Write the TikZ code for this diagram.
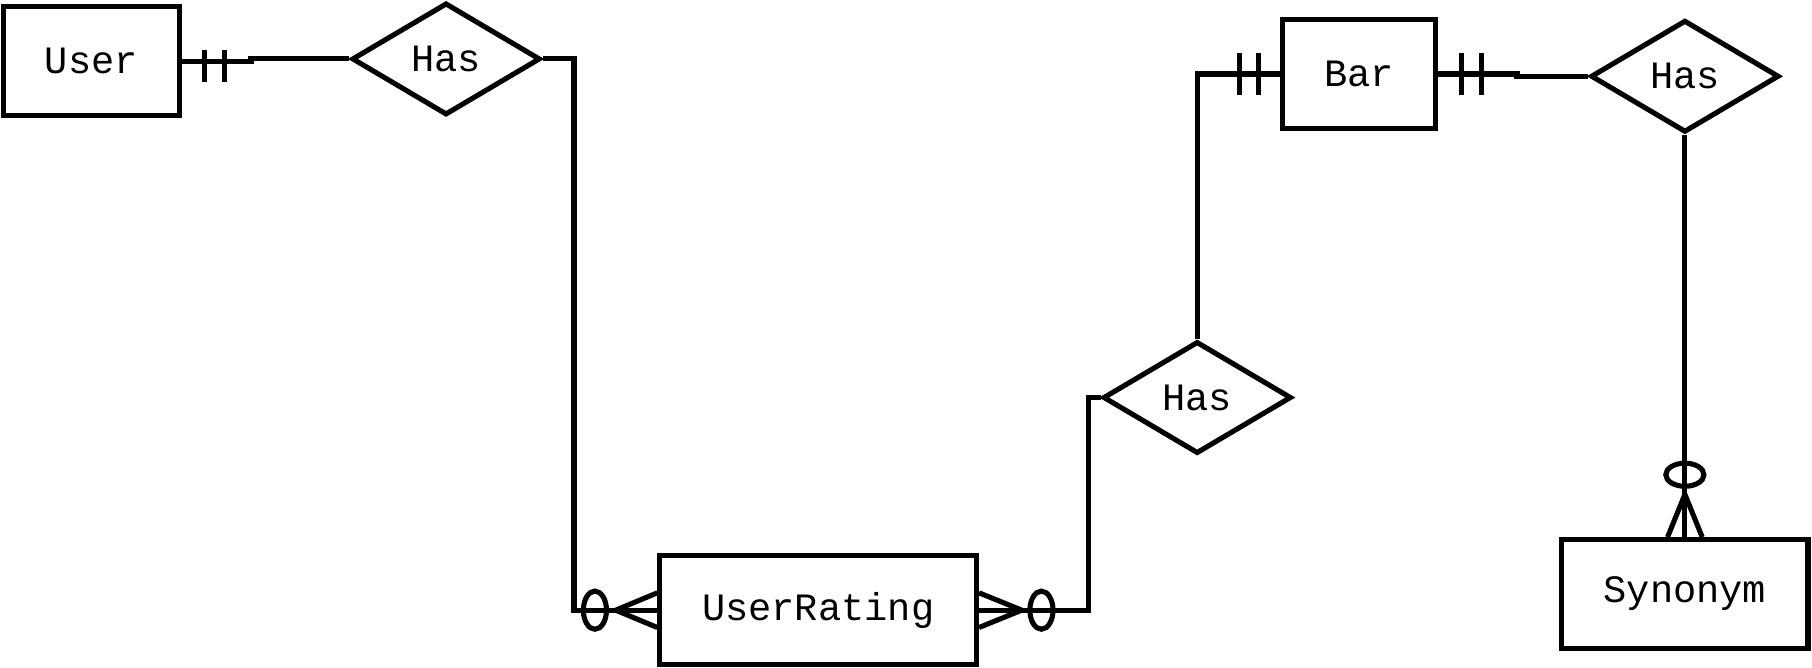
\documentclass[tikz,border=0pt]{standalone}
\usepackage{fontspec}
\setmonofont{Liberation Mono}
\usetikzlibrary{shapes.geometric}

\begin{document}
\begin{tikzpicture}[x=1pt, y=-1pt, line width=4.4pt,
		entity/.style={draw, rectangle, minimum height=94pt, inner sep=0pt, font=\ttfamily\fontsize{33.5}{40}\selectfont},
		relation/.style={draw, diamond, minimum width=163pt, minimum height=97pt, inner sep=0pt, font=\ttfamily\fontsize{33.5}{40}\selectfont}]
		\useasboundingbox (0, 0) rectangle (1568, 578);
		% entities and relations
		\node[entity, minimum width=152pt] (user) at (79, 53) {User};
		\node[relation] (hasuser) at (386, 51) {Has};
		\node[entity, minimum width=274pt] (rating) at (708, 528) {UserRating};
		\node[relation] (hasbar) at (1036, 344) {Has};
		\node[entity, minimum width=133pt] (bar) at (1176, 64) {Bar};
		\node[relation] (hassyn) at (1458, 66) {Has};
		\node[entity, minimum width=213pt] (syn) at (1458, 514) {Synonym};
		% connectors
		\draw (user.east) -- ++(60, 0) |- (hasuser.west);
		\draw (hasuser.east) -- ++(27, 0) |- (rating.west);
		\draw (rating.east) -- ++(95, 0) |- (hasbar.west);
		\draw (hasbar.north) |- (bar.west);
		\draw (bar.east) -- ++(68, 0) |- (hassyn.west);
		\draw (hassyn.south) -- (syn.north);
		% one and only one
		\draw (user.east) ++(20, -10) -- ++(0, 28);
		\draw (user.east) ++(37, -10) -- ++(0, 28);
		\draw (bar.west) ++(-35, -18) -- ++(0, 36);
		\draw (bar.west) ++(-18, -18) -- ++(0, 36);
		\draw (bar.east) ++(20, -18) -- ++(0, 36);
		\draw (bar.east) ++(37, -18) -- ++(0, 36);
		% zero or many
		\draw (rating.west) ++(-54, 0) ellipse (10 and 16.5);
		\draw (rating.west) ++(0, -15) -- ++(-36, 15) -- ++(36, 15);
		\draw (rating.east) ++(54, 0) ellipse (10 and 16.5);
		\draw (rating.east) ++(0, -15) -- ++(37, 15) -- ++(-37, 15);
		\draw (syn.north) ++(0, -54) ellipse (16.5 and 10);
		\draw (syn.north) ++(-15, 0) -- ++(15, -37) -- ++(15, 37);
	\end{tikzpicture}
\end{document}
